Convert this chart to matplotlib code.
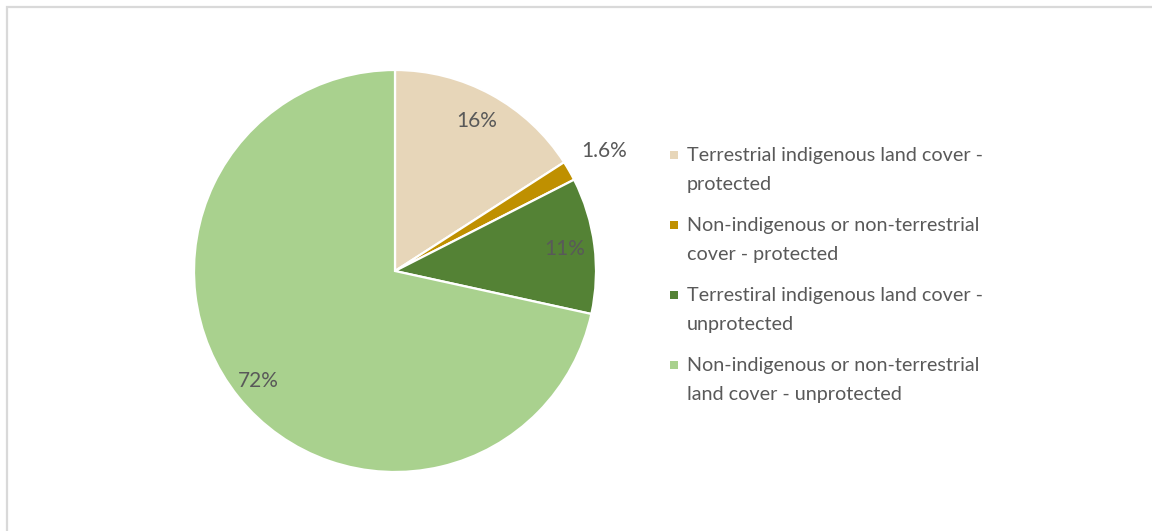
import numpy as np
import matplotlib.pyplot as plt
from matplotlib.patches import Rectangle

plt.rcParams['font.family'] = ['Lato', 'DejaVu Sans']

# land cover shares (%)
labels = ["Terrestrial indigenous land cover -\nprotected",
          "Non-indigenous or non-terrestrial\ncover - protected",
          "Terrestiral indigenous land cover -\nunprotected",
          "Non-indigenous or non-terrestrial\nland cover - unprotected"]
shares = [16, 1.6, 11, 72]
colours = ["#E7D6B9", "#BF9000", "#548235", "#A9D18E"]

# radius of each percentage label
lab_r = [0.85, 1.2, 0.85, 0.87]

W, H = 1152, 531
fig = plt.figure(figsize=(W/100, H/100), dpi=100)

# pale chart border
fig.patches.append(Rectangle((7/W, -0.05), 1.1, 1 - 7/H + 0.05, transform=fig.transFigure,
                             fill=False, edgecolor="#D9D9D9", linewidth=1.6))

cx, cy, r = 395, 271, 201
ax = fig.add_axes([(cx - r)/W, (H - cy - r)/H, 2*r/W, 2*r/H])
wedges, _ = ax.pie(shares, colors=colours, startangle=90, counterclock=False,
                   wedgeprops=dict(edgecolor="white", linewidth=1.6))
ax.set_xlim(-1, 1)
ax.set_ylim(-1, 1)
ax.set_aspect("equal")
ax.axis("off")

for w, v, lr in zip(wedges, shares, lab_r):
    ang = np.deg2rad((w.theta1 + w.theta2) / 2)
    ax.text(lr*np.cos(ang), lr*np.sin(ang), f"{v:g}%", ha="center", va="center",
            fontsize=15, color="#595959", clip_on=False)

# legend entries, one square marker per slice
for i, (lab, c) in enumerate(zip(labels, colours)):
    y0 = 155 + 70*i
    fig.patches.append(Rectangle((670/W, 1 - (y0 + 4)/H), 8/W, 8/H,
                                 transform=fig.transFigure, facecolor=c, edgecolor="none"))
    fig.text(687/W, 1 - (y0 - 8)/H, lab, ha="left", va="top", fontsize=14.2,
             color="#595959", linespacing=1.85)

fig.savefig("out.png", dpi=100)
